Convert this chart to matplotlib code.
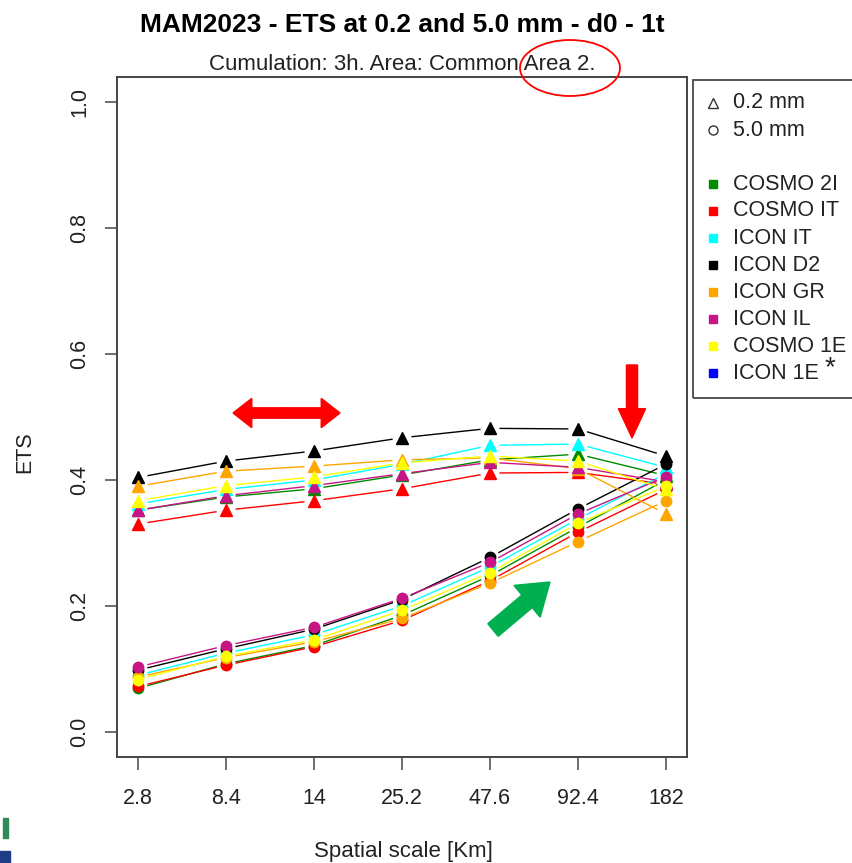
import numpy as np
import matplotlib
matplotlib.use("Agg")
import matplotlib.pyplot as plt
from matplotlib.patches import FancyArrow, Ellipse, Rectangle
from matplotlib.lines import Line2D

plt.rcParams['font.family'] = ['Liberation Sans', 'DejaVu Sans']

# spatial scales (Km) on the x axis
scales = ['2.8', '8.4', '14', '25.2', '47.6', '92.4', '182']

models = ['COSMO 2I', 'COSMO IT', 'ICON IT', 'ICON D2', 'ICON GR', 'ICON IL', 'COSMO 1E', 'ICON 1E']
colors = ['#008B00', '#FF0000', '#00FFFF', '#000000', '#FFA500', '#C71585', '#FFFF00', '#0000FF']

# ETS at 0.2 mm threshold (triangles)
ets_02 = {
    'COSMO 2I': [0.352, 0.373, 0.386, 0.408, 0.432, 0.441, 0.407],
    'COSMO IT': [0.330, 0.352, 0.367, 0.386, 0.411, 0.412, 0.393],
    'ICON IT':  [0.362, 0.385, 0.400, 0.425, 0.455, 0.457, 0.420],
    'ICON D2':  [0.404, 0.430, 0.446, 0.467, 0.482, 0.481, 0.438],
    'ICON GR':  [0.390, 0.414, 0.422, 0.432, 0.435, 0.418, 0.346],
    'ICON IL':  [0.352, 0.375, 0.391, 0.410, 0.428, 0.420, 0.397],
    'COSMO 1E': [0.367, 0.391, 0.405, 0.427, 0.438, 0.430, 0.385],
}

# ETS at 5.0 mm threshold (circles)
ets_50 = {
    'COSMO 2I': [0.069, 0.108, 0.137, 0.185, 0.248, 0.325, 0.400],
    'COSMO IT': [0.072, 0.106, 0.135, 0.177, 0.240, 0.317, 0.385],
    'ICON IT':  [0.090, 0.125, 0.154, 0.200, 0.262, 0.338, 0.410],
    'ICON D2':  [0.098, 0.132, 0.163, 0.210, 0.277, 0.354, 0.425],
    'ICON GR':  [0.087, 0.118, 0.143, 0.180, 0.236, 0.302, 0.367],
    'ICON IL':  [0.103, 0.137, 0.166, 0.212, 0.269, 0.346, 0.405],
    'COSMO 1E': [0.083, 0.120, 0.146, 0.193, 0.253, 0.331, 0.390],
}

W, H = 853, 863
fig = plt.figure(figsize=(W / 100, H / 100), dpi=100)


def fx(x):
    return x / W


def fy(y):
    return 1 - y / H


ax = fig.add_axes([fx(117), fy(757), fx(687) - fx(117), fy(77) - fy(757)])
x = np.arange(1, len(scales) + 1)
ax.set_xlim(0.76, 7.24)
ax.set_ylim(-0.04, 1.04)

# pixel size of one data unit (for R style "b" line gaps)
sx = (687 - 117) / 6.48
sy = (757 - 77) / 1.08
gap = 9.5


def gapped_lines(xs, ys, color):
    for i in range(len(xs) - 1):
        dx = (xs[i + 1] - xs[i]) * sx
        dy = (ys[i + 1] - ys[i]) * sy
        L = np.hypot(dx, dy)
        f = gap / L
        x0 = xs[i] + (xs[i + 1] - xs[i]) * f
        x1 = xs[i + 1] - (xs[i + 1] - xs[i]) * f
        y0 = ys[i] + (ys[i + 1] - ys[i]) * f
        y1 = ys[i + 1] - (ys[i + 1] - ys[i]) * f
        ax.plot([x0, x1], [y0, y1], color=color, lw=1.0, solid_capstyle='butt')


for m, c in zip(models, colors):
    if m in ets_02:
        gapped_lines(x, ets_02[m], c)
        ax.plot(x, ets_02[m], ls='none', marker='^', ms=8, color=c, mec=c)
    if m in ets_50:
        gapped_lines(x, ets_50[m], c)
        ax.plot(x, ets_50[m], ls='none', marker='o', ms=7.5, color=c, mec=c)

fs = 15.5
ax.set_xticks(x)
ax.set_xticklabels(scales, fontsize=fs, color='#222222')
ax.set_yticks([0.0, 0.2, 0.4, 0.6, 0.8, 1.0])
ax.set_yticklabels(['0.0', '0.2', '0.4', '0.6', '0.8', '1.0'], fontsize=fs,
                   rotation=90, va='center', color='#222222')
ax.tick_params(length=9, width=1.2, color='#555555')
ax.tick_params(axis='x', pad=13)
ax.tick_params(axis='y', pad=10)
for s in ax.spines.values():
    s.set_color('#444444')
    s.set_linewidth(1.4)

fig.text(fx(403), fy(851), 'Spatial scale [Km]', ha='center', va='center', fontsize=16, color='#222222')
fig.text(fx(25), fy(452), 'ETS', ha='center', va='center', rotation=90, fontsize=fs, color='#222222')
fig.text(fx(402), fy(25), 'MAM2023 - ETS at 0.2 and 5.0 mm - d0 - 1t', ha='center', va='center',
         fontsize=19, fontweight='bold')
fig.text(fx(402), fy(64), 'Cumulation: 3h. Area: Common Area 2.', ha='center', va='center',
         fontsize=16, color='#222222')

# legend box
fig.patches.append(Rectangle((fx(693), fy(398)), fx(870) - fx(693), fy(80) - fy(398),
                             transform=fig.transFigure, fill=False, ec='#555555', lw=1.4))
leg_items = [('0.2 mm', '^', 'open'), ('5.0 mm', 'o', 'open'), ('', None, None)]
leg_items += [(m, 's', c) for m, c in zip(models, colors)]
y0 = 103
for i, (lab, mk, c) in enumerate(leg_items):
    yy = y0 + i * 27.0
    if mk is None:
        continue
    if c == 'open':
        fig.add_artist(Line2D([fx(713)], [fy(yy)], marker=mk, ms=6.5, mfc='none', mec='#333333',
                              mew=1.0, transform=fig.transFigure))
    else:
        fig.add_artist(Line2D([fx(713)], [fy(yy)], marker=mk, ms=5.5, color=c, mec=c,
                              transform=fig.transFigure))
    fig.text(fx(733), fy(yy), lab, ha='left', va='center', fontsize=15.5, color='#222222')
fig.text(fx(825), fy(368), '*', ha='left', va='center', fontsize=20, color='#222222')

# annotations drawn over the chart
red = '#FF0000'
fig.add_artist(FancyArrow(fx(286), fy(413), fx(340) - fx(286), 0, width=0.012, head_width=0.034,
                          head_length=0.022, length_includes_head=True, color=red,
                          transform=fig.transFigure))
fig.add_artist(FancyArrow(fx(286), fy(413), fx(233) - fx(286), 0, width=0.012, head_width=0.034,
                          head_length=0.022, length_includes_head=True, color=red,
                          transform=fig.transFigure))
fig.add_artist(FancyArrow(fx(632), fy(365), 0, fy(438) - fy(365), width=0.013, head_width=0.032,
                          head_length=0.034, length_includes_head=True, color=red,
                          transform=fig.transFigure))
fig.add_artist(FancyArrow(fx(493), fy(630), fx(550) - fx(493), fy(582) - fy(630), width=0.019,
                          head_width=0.048, head_length=0.035, length_includes_head=True,
                          color='#00B050', transform=fig.transFigure))
fig.add_artist(Ellipse((fx(570), fy(68)), fx(100), 56 / H, fill=False, ec=red, lw=1.3,
                       transform=fig.transFigure))

# corner of a logo, cut off in the screenshot
fig.patches.append(Rectangle((0, fy(863)), fx(10), 12 / H, transform=fig.transFigure,
                             color='#1F3C88'))
fig.patches.append(Rectangle((fx(3), fy(838)), fx(5), 20 / H, transform=fig.transFigure,
                             color='#2E8B57'))

fig.savefig('out.png', dpi=100)
